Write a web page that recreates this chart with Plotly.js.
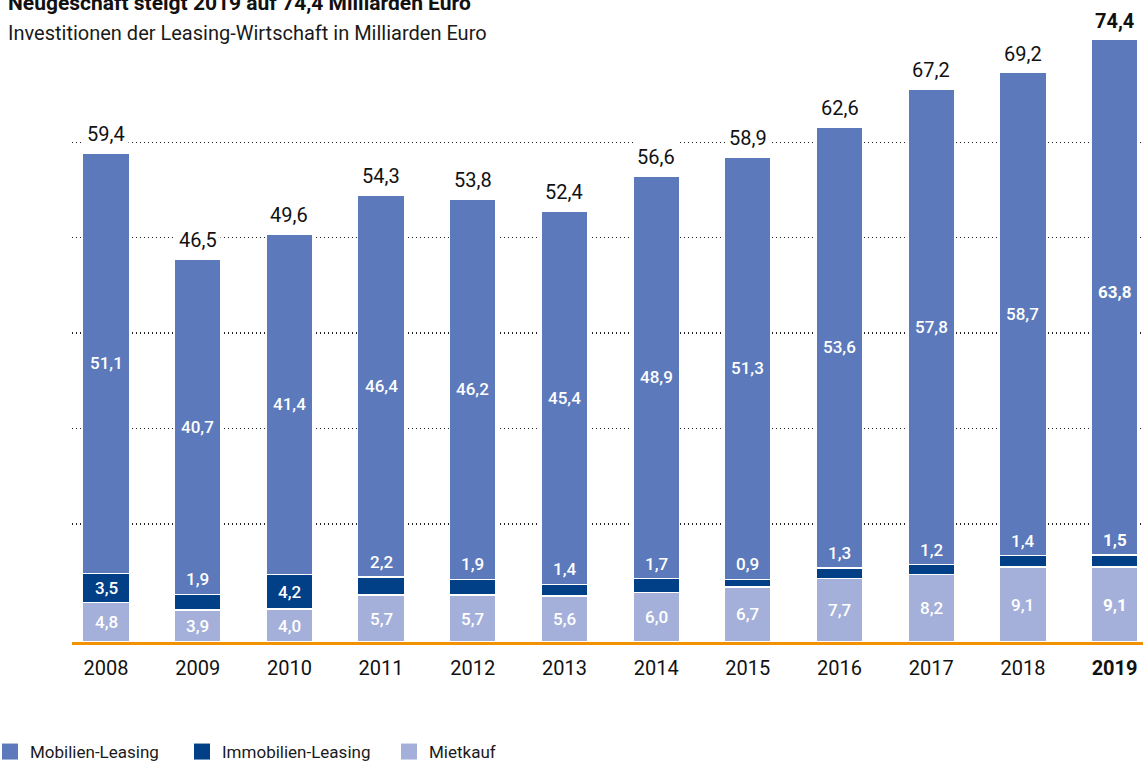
<!DOCTYPE html>
<html>
<head>
<meta charset="utf-8">
<script src="https://cdn.plot.ly/plotly-3.0.1.min.js"></script>
<style>html,body{margin:0;padding:0;background:#fff;}#chart{width:1143px;height:765px;}</style>
</head>
<body>
<div id="chart"></div>
<script>
// ---- data ----
const years = ['2008','2009','2010','2011','2012','2013','2014','2015','2016','2017','2018','2019'];
const mobilien = [51.1, 40.7, 41.4, 46.4, 46.2, 45.4, 48.9, 51.3, 53.6, 57.8, 58.7, 63.8];
const immobilien = [3.5, 1.9, 4.2, 2.2, 1.9, 1.4, 1.7, 0.9, 1.3, 1.2, 1.4, 1.5];
const mietkauf = [4.8, 3.9, 4.0, 5.7, 5.7, 5.6, 6.0, 6.7, 7.7, 8.2, 9.1, 9.1];
const totals = [59.4, 46.5, 49.6, 54.3, 53.8, 52.4, 56.6, 58.9, 62.6, 67.2, 69.2, 74.4];
const seriesNames = ['Mobilien-Leasing', 'Immobilien-Leasing', 'Mietkauf'];
const highlightYear = '2019';

// ---- style ----
const FONT = 'Roboto, "Liberation Sans", Arial, sans-serif';
const C_MOB = '#5b79bb', C_IMM = '#014087', C_MIET = '#a4b0da', ORANGE = '#f39200';
const yMax = 73.15;

const fmt = v => v.toFixed(1).replace('.', ',');
const bold = (y, s) => y === highlightYear ? '<b>' + s + '</b>' : s;

function bar(name, vals, color) {
  return {type: 'bar', name: name, x: years, y: vals, width: 0.51, showlegend: false,
          marker: {color: color, line: {color: '#ffffff', width: 1.5}}, hoverinfo: 'skip'};
}
function legendItem(name, color, legendId) {
  return {type: 'scatter', mode: 'markers', name: name, x: [null], y: [null], legend: legendId,
          marker: {symbol: 'square', size: 16, color: color}, hoverinfo: 'skip'};
}

const traces = [
  bar(seriesNames[2], mietkauf, C_MIET),
  bar(seriesNames[1], immobilien, C_IMM),
  bar(seriesNames[0], mobilien, C_MOB),
  legendItem(seriesNames[0], C_MOB, 'legend'),
  legendItem(seriesNames[1], C_IMM, 'legend2'),
  legendItem(seriesNames[2], C_MIET, 'legend3')
];

const annotations = [];
years.forEach((yr, i) => {
  const segFont = {family: FONT, size: 17, color: '#ffffff', weight: 500};
  annotations.push({x: i, y: mietkauf[i] / 2, xref: 'x', yref: 'y', text: bold(yr, fmt(mietkauf[i])), showarrow: false, font: segFont});
  const immTop = mietkauf[i] + immobilien[i];
  if (immobilien[i] >= 3) {
    annotations.push({x: i, y: mietkauf[i] + immobilien[i] / 2, xref: 'x', yref: 'y', text: bold(yr, fmt(immobilien[i])), showarrow: false, font: segFont});
  } else {
    annotations.push({x: i, y: immTop, xref: 'x', yref: 'y', yanchor: 'bottom', yshift: 3, text: bold(yr, fmt(immobilien[i])), showarrow: false, font: segFont});
  }
  annotations.push({x: i, y: immTop + mobilien[i] / 2, xref: 'x', yref: 'y', text: bold(yr, fmt(mobilien[i])), showarrow: false, font: segFont});
  annotations.push({x: i, y: Math.min(totals[i], yMax), xref: 'x', yref: 'y', yanchor: 'bottom', yshift: 3, text: bold(yr, fmt(totals[i])), showarrow: false, bgcolor: '#ffffff', borderpad: 3, font: {family: FONT, size: 20, color: '#111111'}});
});

annotations.push({
  xref: 'paper', yref: 'paper', x: (6 - 72) / 1071, y: (642 - 33) / 602, xanchor: 'left', yanchor: 'middle',
  text: 'Investitionen der Leasing-Wirtschaft in Milliarden Euro', showarrow: false,
  font: {family: FONT, size: 20, color: '#1a1a1a'}
});

const gridVals = [0, 1, 2, 3, 4].map(k => 14.34 + 11.6 * k);

function legendBox(px, indent) {
  return {orientation: 'h', xref: 'paper', yref: 'container', x: (px - 72) / 1071, y: 1 - 752 / 765,
          xanchor: 'left', yanchor: 'middle', font: {family: FONT, size: 17, color: '#1a1a1a'},
          indentation: indent,
          itemclick: false, itemdoubleclick: false, bgcolor: 'rgba(0,0,0,0)'};
}

const layout = {
  width: 1143, height: 765,
  margin: {l: 72, r: 0, t: 40, b: 123, pad: 0},
  paper_bgcolor: '#ffffff', plot_bgcolor: '#ffffff',
  barmode: 'stack', bargap: 0.49,
  font: {family: FONT, size: 17, color: '#1a1a1a'},
  title: {
    text: '<b>Neugeschäft steigt 2019 auf 74,4 Milliarden Euro</b>',
    xref: 'container', yref: 'container', x: 8 / 1143, xanchor: 'left', y: 1 - 3 / 765, yanchor: 'middle',
    font: {family: FONT, size: 21, color: '#111111'}
  },
  xaxis: {
    type: 'category', range: [-0.371, 11.31], fixedrange: true,
    tickmode: 'array', tickvals: years, ticktext: years.map(y => bold(y, y)),
    ticks: '', showgrid: false, zeroline: false,
    showline: true, linecolor: ORANGE, linewidth: 2.5,
    tickfont: {family: FONT, size: 20, color: '#111111'}, ticklabelstandoff: 6
  },
  yaxis: {
    range: [0, yMax], fixedrange: true, tickmode: 'array', tickvals: gridVals,
    showticklabels: false, ticks: '', zeroline: false, showline: false,
    showgrid: true, gridcolor: '#222222', gridwidth: 1.2, griddash: '1px,3px'
  },
  showlegend: true,
  legend: legendBox(-28, -10),
  legend2: legendBox(182, 0),
  legend3: legendBox(389, 0),
  annotations: annotations
};

Plotly.newPlot('chart', traces, layout, {displayModeBar: false, staticPlot: true});
</script>
</body>
</html>
